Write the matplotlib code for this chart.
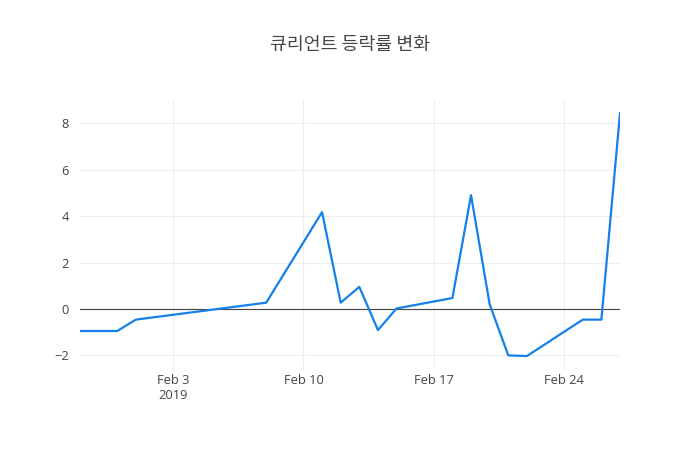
import matplotlib
matplotlib.use('Agg')
import matplotlib.pyplot as plt
import pandas as pd

plt.rcParams['font.family'] = ['Open Sans', 'Noto Sans CJK KR', 'DejaVu Sans']

# 등락률 data
dates = ['2019-01-29', '2019-01-30', '2019-01-31', '2019-02-01', '2019-02-08',
         '2019-02-11', '2019-02-12', '2019-02-13', '2019-02-14', '2019-02-15',
         '2019-02-18', '2019-02-19', '2019-02-20', '2019-02-21', '2019-02-22',
         '2019-02-25', '2019-02-26', '2019-02-27']
rates = [-0.95, -0.95, -0.95, -0.46, 0.27,
         4.17, 0.27, 0.95, -0.91, 0.02,
         0.47, 4.90, 0.20, -2.00, -2.03,
         -0.46, -0.46, 8.43]
tick_dates = ['2019-02-03', '2019-02-10', '2019-02-17', '2019-02-24']
tick_labels = ['Feb 3\n2019', 'Feb 10', 'Feb 17', 'Feb 24']
y_ticks = [-2, 0, 2, 4, 6, 8]
title = '큐리언트 등락률 변화'

x = pd.to_datetime(dates)

fig = plt.figure(figsize=(7, 4.5), dpi=100)
ax = fig.add_axes([80 / 700, 80 / 450, 540 / 700, 270 / 450])

ax.plot(x, rates, color='#1580e8', linewidth=1.6, zorder=3)
ax.axhline(0, color='#444444', linewidth=0.8, zorder=2)

ax.set_xlim(x[0], x[-1])
ax.set_ylim(-2.63, 9.0)
ax.set_xticks(pd.to_datetime(tick_dates))
ax.set_xticklabels(tick_labels)
ax.set_yticks(y_ticks)
ax.set_yticklabels([str(v).replace('-', '\u2212') for v in y_ticks])

ax.grid(True, color='#eeeeee', linewidth=0.8, zorder=0)
for s in ax.spines.values():
    s.set_visible(False)
ax.tick_params(length=0, labelsize=9.3, labelcolor='#444444')
ax.tick_params(axis='x', pad=3)
ax.tick_params(axis='y', pad=8)

fig.text(0.5, 1 - 45 / 450, title, ha='center', va='center',
         fontsize=13.2, color='#444444',
         family=['Noto Sans CJK KR', 'DejaVu Sans'])

fig.savefig('out.png', dpi=100)
